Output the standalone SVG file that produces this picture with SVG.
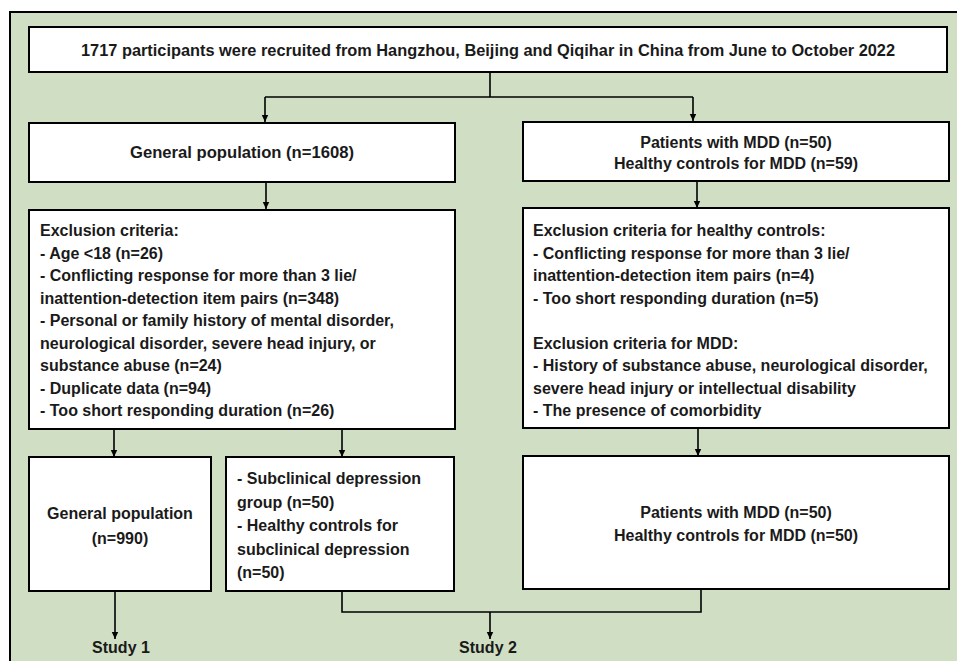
<svg xmlns="http://www.w3.org/2000/svg" width="957" height="661" viewBox="0 0 957 661">
<style>
.box{fill:#ffffff;stroke:#000000;stroke-width:2}
.t{font-family:"Liberation Sans",Arial,sans-serif;font-weight:bold;font-size:16px;fill:#1a1a1a}
.c{text-anchor:middle}
.ln{fill:none;stroke:#000000;stroke-width:1.6}
</style>
<defs>
<marker id="ah" markerWidth="8" markerHeight="8" refX="7" refY="4" orient="auto" markerUnits="userSpaceOnUse">
<path d="M0,0.8 L7,4 L0,7.2 Z" fill="#000000"/>
</marker>
</defs>
<rect x="0" y="0" width="957" height="661" fill="#ffffff"/>
<rect x="10" y="12" width="970" height="680" fill="#D0DEC4" stroke="#000000" stroke-width="2"/>

<g id="connectors">
<path class="ln" d="M490,72 V97"/>
<path class="ln" d="M265,97 H693"/>
<path class="ln" d="M265,97 V122" marker-end="url(#ah)"/>
<path class="ln" d="M693,97 V121" marker-end="url(#ah)"/>
<path class="ln" d="M266,182 V209" marker-end="url(#ah)"/>
<path class="ln" d="M697,181 V208" marker-end="url(#ah)"/>
<path class="ln" d="M114,429 V457" marker-end="url(#ah)"/>
<path class="ln" d="M342,429 V457" marker-end="url(#ah)"/>
<path class="ln" d="M698,428 V456" marker-end="url(#ah)"/>
<path class="ln" d="M115,591 V639" marker-end="url(#ah)"/>
<path class="ln" d="M342,591 V612 H701 V589"/>
<path class="ln" d="M490,612 V639" marker-end="url(#ah)"/>
</g>

<g id="n_top">
<rect class="box" x="29" y="27" width="918" height="45"/>
<text class="t c" x="488" y="56" textLength="814" lengthAdjust="spacingAndGlyphs">1717 participants were recruited from Hangzhou, Beijing and Qiqihar in China from June to October 2022</text>
</g>

<g id="n_general">
<rect class="box" x="29" y="123" width="426" height="59"/>
<text class="t c" x="242" y="158" textLength="224" lengthAdjust="spacingAndGlyphs">General population (n=1608)</text>
</g>

<g id="n_mdd">
<rect class="box" x="523" y="122" width="426" height="59"/>
<text class="t c" x="736" y="148">Patients with MDD (n=50)</text>
<text class="t c" x="736" y="169">Healthy controls for MDD (n=59)</text>
</g>

<g id="n_excl_left">
<rect class="box" x="29" y="210" width="426" height="219"/>
<text class="t" x="40" y="236">Exclusion criteria:</text>
<text class="t" x="40" y="258.5">- Age &lt;18 (n=26)</text>
<text class="t" x="40" y="281">- Conflicting response for more than 3 lie/</text>
<text class="t" x="40" y="303.5">inattention-detection item pairs (n=348)</text>
<text class="t" x="40" y="326">- Personal or family history of mental disorder,</text>
<text class="t" x="40" y="348.5">neurological disorder, severe head injury, or</text>
<text class="t" x="40" y="371">substance abuse (n=24)</text>
<text class="t" x="40" y="393.5">- Duplicate data (n=94)</text>
<text class="t" x="40" y="416">- Too short responding duration (n=26)</text>
</g>

<g id="n_excl_right">
<rect class="box" x="523" y="208" width="426" height="220"/>
<text class="t" x="533" y="236">Exclusion criteria for healthy controls:</text>
<text class="t" x="533" y="258.5">- Conflicting response for more than 3 lie/</text>
<text class="t" x="533" y="281">inattention-detection item pairs (n=4)</text>
<text class="t" x="533" y="303.5">- Too short responding duration (n=5)</text>
<text class="t" x="533" y="348.5">Exclusion criteria for MDD:</text>
<text class="t" x="533" y="371">- History of substance abuse, neurological disorder,</text>
<text class="t" x="533" y="393.5">severe head injury or intellectual disability</text>
<text class="t" x="533" y="416">- The presence of comorbidity</text>
</g>

<g id="n_gp990">
<rect class="box" x="29" y="457" width="182" height="134"/>
<text class="t c" x="120" y="519">General population</text>
<text class="t c" x="120" y="544">(n=990)</text>
</g>

<g id="n_subclinical">
<rect class="box" x="226" y="457" width="228" height="134"/>
<text class="t" x="237" y="484">- Subclinical depression</text>
<text class="t" x="237" y="507.5">group (n=50)</text>
<text class="t" x="237" y="531">- Healthy controls for</text>
<text class="t" x="237" y="554.5">subclinical depression</text>
<text class="t" x="237" y="578">(n=50)</text>
</g>

<g id="n_mdd_final">
<rect class="box" x="523" y="456" width="426" height="133"/>
<text class="t c" x="736" y="518">Patients with MDD (n=50)</text>
<text class="t c" x="736" y="541">Healthy controls for MDD (n=50)</text>
</g>

<g id="n_study1">
<text class="t c" x="121" y="653">Study 1</text>
</g>
<g id="n_study2">
<text class="t c" x="488" y="653">Study 2</text>
</g>
</svg>
